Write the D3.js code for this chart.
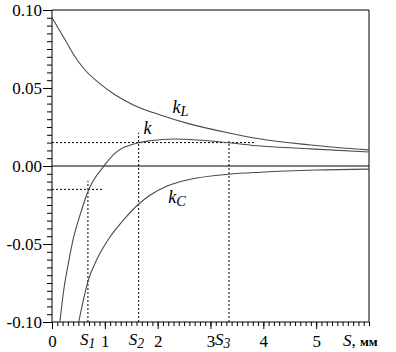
<!DOCTYPE html>
<html>
<head>
<meta charset="utf-8">
<script src="https://cdn.jsdelivr.net/npm/d3@7"></script>
<style>
  body { margin: 0; background: #fff; }
  svg { display: block; }
  svg text { font-family: "Liberation Serif", "Times New Roman", Tinos, "Nimbus Roman", "FreeSerif", "DejaVu Serif", serif !important; }
</style>
</head>
<body>
<svg width="396" height="352"></svg>
<script>
// S, mm  and coefficient values
const sL = [0, 0.15, 0.28, 0.4, 0.6, 0.9, 1.2, 1.55, 2.05, 2.6, 3.35, 3.95, 4.9, 6.0];
const kL = [0.095, 0.0865, 0.079, 0.072, 0.0625, 0.053, 0.0455, 0.039, 0.0327, 0.027, 0.0212, 0.0173, 0.0135, 0.0103];

const sC = [0.5, 0.594, 0.689, 0.848, 1.068, 1.353, 1.638, 1.86, 2.18, 2.62, 3.345, 3.95, 5.0, 6.0];
const kC = [-0.101, -0.086, -0.073, -0.060, -0.047, -0.0346, -0.0245, -0.0186, -0.0128, -0.0085, -0.0053, -0.0040, -0.0026, -0.002];

const sK = [0.15, 0.214, 0.309, 0.4, 0.53, 0.69, 0.973, 1.228, 1.638, 1.86, 2.3, 2.745, 3.345, 3.95, 4.9, 6.0];
const kK = [-0.100, -0.0816, -0.0624, -0.047, -0.0315, -0.0155, -0.0004, 0.0092, 0.0149, 0.0162, 0.0173, 0.0167, 0.0149, 0.0128, 0.011, 0.009];

// special points S1, S2, S3 and the levels marked by dotted lines
const sMarks = [0.68, 1.64, 3.35];
const sMarkTops = [-0.0095, 0.0213, 0.016];
const levels = [0.015, -0.015];
const levelEnds = [3.85, 0.95];

const xTicks = [0, 1, 2, 3, 4, 5];
const yTicks = [-0.10, -0.05, 0.00, 0.05, 0.10];

const margin = {top: 10, right: 27, bottom: 30, left: 52},
    width = 396, height = 352;

const svg = d3.select("svg");

const x = d3.scaleLinear().domain([0, 6]).range([margin.left, width - margin.right]);
const y = d3.scaleLinear().domain([-0.1, 0.1]).range([height - margin.bottom, margin.top]);

svg.append("defs").append("clipPath").attr("id", "plot")
  .append("rect")
    .attr("x", x(0)).attr("y", y(0.1))
    .attr("width", x(6) - x(0)).attr("height", y(-0.1) - y(0.1));

// minor ticks first
svg.append("g")
    .attr("transform", "translate(0," + y(-0.1) + ")")
    .call(d3.axisBottom(x).tickValues(d3.range(0, 60.5, 1).map(d => d / 10)).tickSize(4).tickFormat(""))
    .call(g => g.select(".domain").remove());

svg.append("g")
    .attr("transform", "translate(" + x(0) + ",0)")
    .call(d3.axisLeft(y).tickValues(d3.range(-20, 20.5, 1).map(d => d / 200)).tickSize(5).tickFormat(""))
    .call(g => g.select(".domain").remove());

// major ticks + labels
const xAxis = svg.append("g")
    .attr("transform", "translate(0," + y(-0.1) + ")")
    .call(d3.axisBottom(x).tickValues(xTicks).tickSize(7).tickPadding(6).tickFormat(d3.format("d")));
xAxis.select(".domain").attr("d", "M" + x(0) + ",0H" + x(6));

const yAxis = svg.append("g")
    .attr("transform", "translate(" + x(0) + ",0)")
    .call(d3.axisLeft(y).tickValues(yTicks).tickSize(9).tickPadding(1).tickFormat(d => d.toFixed(2)));
yAxis.select(".domain").attr("d", "M0," + y(-0.1) + "V" + y(0.1));

svg.selectAll("g").attr("font-family", null);
svg.selectAll(".tick text").attr("font-size", 17).attr("fill", "#000");
svg.selectAll(".tick line, .domain").attr("stroke", "#000");

// frame and zero line
svg.append("path")
    .attr("d", "M" + x(0) + "," + y(0.1) + "H" + x(6) + "V" + y(-0.1))
    .attr("fill", "none").attr("stroke", "#000");
svg.append("line")
    .attr("x1", x(0)).attr("x2", x(6)).attr("y1", y(0)).attr("y2", y(0))
    .attr("stroke", "#000");

// dotted guides
const guides = svg.append("g").attr("stroke", "#000").attr("stroke-dasharray", "2,2").attr("fill", "none");
sMarks.forEach((s, i) => {
  guides.append("line")
    .attr("x1", x(s)).attr("x2", x(s))
    .attr("y1", y(-0.1)).attr("y2", y(sMarkTops[i]));
});
levels.forEach((v, i) => {
  guides.append("line")
    .attr("x1", x(0)).attr("x2", x(levelEnds[i]))
    .attr("y1", y(v)).attr("y2", y(v));
});

// curves
const line = d3.line().x(d => x(d[0])).y(d => y(d[1])).curve(d3.curveMonotoneX);
const curves = svg.append("g").attr("clip-path", "url(#plot)")
    .attr("fill", "none").attr("stroke", "#4a4a4a").attr("stroke-width", 1.1);
[[sL, kL], [sC, kC], [sK, kK]].forEach(([s, v]) => {
  curves.append("path").attr("d", line(d3.zip(s, v)));
});

// curve labels
function subLabel(px, py, main, sub, size) {
  const t = svg.append("text")
      .attr("x", px).attr("y", py)
      .attr("font-size", size).attr("font-style", "italic").attr("fill", "#000");
  t.append("tspan").text(main);
  if (sub) t.append("tspan").attr("dy", 3).attr("font-size", size * 0.8).text(sub);
  return t;
}
subLabel(x(2.28), y(0.034), "k", "L", 18);
subLabel(x(1.73), y(0.0205), "k", null, 18);
subLabel(x(2.2), y(-0.0237), "k", "C", 18);

// S labels on the x axis
const sOffsets = [-8, -10, -14];
sMarks.forEach((s, i) => {
  subLabel(x(s) + sOffsets[i], 345, "S", String(i + 1), 17);
});

const unit = svg.append("text").attr("x", 343).attr("y", 346).attr("font-size", 17).attr("fill", "#000");
unit.append("tspan").attr("font-style", "italic").text("S");
unit.append("tspan").text(", ");
unit.append("tspan").attr("font-size", 13).attr("font-weight", "bold").text("мм");
</script>
</body>
</html>
